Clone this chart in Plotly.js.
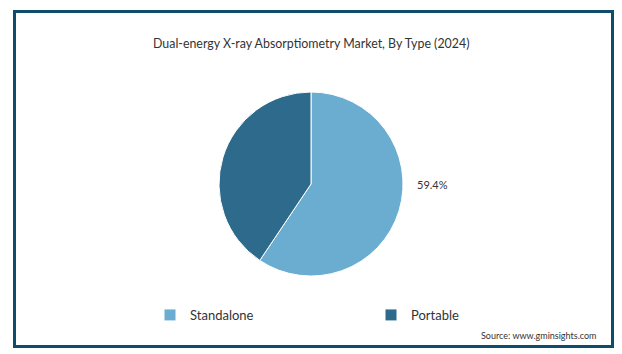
<!DOCTYPE html>
<html>
<head>
<meta charset="utf-8">
<script src="https://cdn.plot.ly/plotly-3.0.1.min.js"></script>
<style>
  html, body { margin: 0; padding: 0; background: #ffffff; }
  #frame { position: absolute; left: 13px; top: 10px; width: 595px; height: 332px; border: 3px solid #0f4d6d; }
  #chart { position: absolute; left: 0; top: 0; width: 622px; height: 354px; }
</style>
</head>
<body>
<div id="chart"></div>
<div id="frame"></div>
<script>
const categories = ['Standalone', 'Portable'];
const shares = [59.4, 40.6];
const colors = ['#6aadd1', '#2e6a8b'];
const shownLabels = [true, false];

const trace = {
  type: 'pie',
  labels: categories,
  values: shares,
  sort: false,
  direction: 'clockwise',
  rotation: 0,
  marker: { colors: colors, line: { color: '#ffffff', width: 1 } },
  textinfo: 'none',
  hoverinfo: 'label+percent',
  domain: { x: [0, 1], y: [0, 1] }
};

const annotations = [{
  text: 'Dual-energy X-ray Absorptiometry Market, By Type (2024)',
  xref: 'paper', yref: 'paper', x: 0.5, y: (354 - 44 - 78) / 184,
  xanchor: 'center', yanchor: 'middle', showarrow: false,
  font: { family: 'Lato, sans-serif', size: 12.4, color: '#333333' }
}, {
  text: 'Source: www.gminsights.com',
  xref: 'paper', yref: 'paper', x: 598 / 622, y: (354 - 335 - 78) / 184,
  xanchor: 'right', yanchor: 'middle', showarrow: false,
  font: { family: 'Lato, sans-serif', size: 9, color: '#333333' }
}];
shares.forEach((v, i) => {
  if (shownLabels[i]) {
    annotations.push({
      text: v.toFixed(1) + '%',
      xref: 'paper', yref: 'paper', x: 432 / 622, y: 0.5,
      xanchor: 'center', yanchor: 'middle', showarrow: false,
      font: { family: 'Lato, sans-serif', size: 11, color: '#333333' }
    });
  }
});

const layout = {
  width: 622, height: 354,
  margin: { l: 0, r: 0, t: 92, b: 78 },
  paper_bgcolor: 'rgba(0,0,0,0)',
  plot_bgcolor: 'rgba(0,0,0,0)',
  showlegend: true,
  legend: {
    orientation: 'h',
    x: 150 / 622, xanchor: 'left',
    y: (276 - 315) / 184, yanchor: 'middle',
    entrywidth: 176, entrywidthmode: 'pixels',
    itemwidth: 30,
    font: { family: 'Lato, sans-serif', size: 13, color: '#333333' },
    bgcolor: 'rgba(0,0,0,0)'
  },
  annotations: annotations
};

Plotly.newPlot('chart', [trace], layout, { displayModeBar: false, staticPlot: true });
</script>
</body>
</html>
